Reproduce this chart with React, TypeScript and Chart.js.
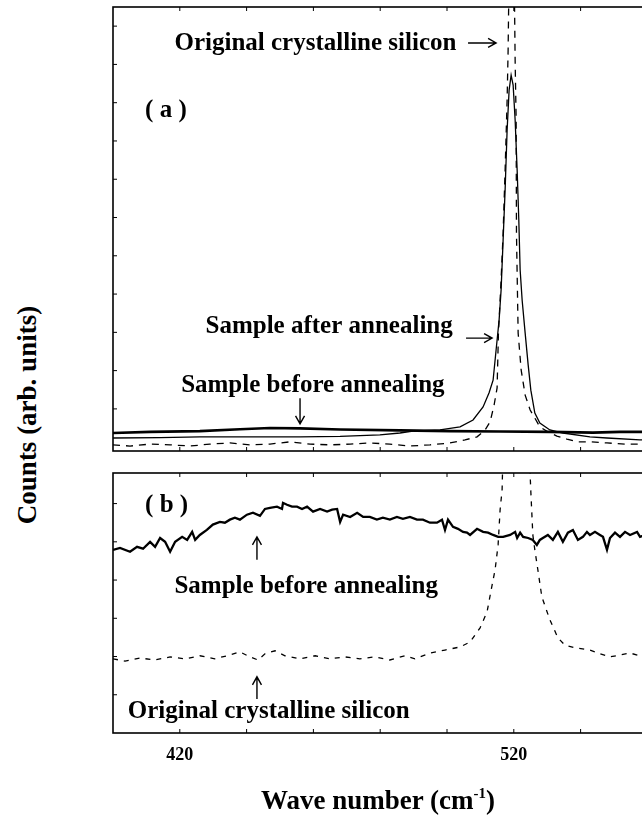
import React, { useEffect, useRef } from "react";
import { Chart, registerables } from "chart.js";

Chart.register(...registerables);

// ---------- axis values ----------
const xMin = 400;
const xMax = 560;
const xTickValues = [420, 440, 460, 480, 500, 520, 540];
const xTickLabels = [420, 520];
const aYTicks = [1, 2, 3, 4, 5, 6, 7, 8, 9, 10, 11];
const bYTicks = [1, 2, 3, 4, 5, 6];

// ---------- panel (a) ----------
const aBefore: [number, number][] = [
  [400, 0.37], [411.1, 0.4], [426.0, 0.42], [438.0, 0.47], [447.0, 0.5], [456.0, 0.49],
  [468.0, 0.46], [485.9, 0.44], [500.9, 0.42], [515.9, 0.41], [530.8, 0.4], [543.7, 0.38],
  [551.8, 0.4], [560, 0.4],
];

const aAfter: [number, number][] = [
  [400, 0.24], [414.1, 0.25], [426.0, 0.27], [441.0, 0.27], [456.0, 0.27], [468.0, 0.28],
  [479.9, 0.32], [485.9, 0.37], [489.8, 0.42], [497.9, 0.45], [503.9, 0.53], [507.8, 0.71],
  [510.8, 1.05], [512.6, 1.42], [513.8, 1.75], [514.7, 2.54], [515.6, 3.32], [516.2, 4.11],
  [516.8, 5.41], [517.4, 6.72], [518.0, 8.29], [518.6, 9.33], [519.2, 9.72], [519.8, 9.46],
  [520.4, 8.55], [521.0, 7.24], [521.5, 5.93], [521.9, 4.63], [522.5, 3.84], [523.4, 2.98],
  [524.3, 2.15], [525.1, 1.49], [526.3, 0.89], [527.8, 0.63], [530.8, 0.45], [534.7, 0.37],
  [542.8, 0.27], [547.9, 0.24], [557.8, 0.19], [560, 0.19],
];

const aCrystal: [number, number][] = [
  [400, 0.06], [405.1, 0.03], [411.1, 0.08], [417.1, 0.06], [423.1, 0.03], [429.0, 0.08],
  [435.0, 0.11], [441.0, 0.06], [447.0, 0.08], [453.0, 0.14], [459.0, 0.08], [465.0, 0.06],
  [471.0, 0.08], [476.9, 0.11], [482.9, 0.08], [488.9, 0.03], [494.9, 0.06], [500.9, 0.11],
  [505.4, 0.19], [509.0, 0.27], [511.4, 0.45], [512.9, 0.66], [514.1, 1.1], [515.0, 1.55],
  [515.4, 2.98], [516.2, 4.37], [516.8, 5.59], [517.4, 7.24], [518.0, 9.07], [518.3, 10.38],
  [518.6, 12.5], [519.3, 16], [520.1, 12.5], [520.4, 10.11], [520.7, 8.55], [520.8, 5.59],
  [521.3, 2.98], [522.2, 2.02], [523.4, 1.36], [524.9, 0.97], [526.3, 0.76], [527.8, 0.53],
  [530.2, 0.4], [532.9, 0.29], [535.9, 0.21], [538.9, 0.14], [542.8, 0.14], [547.9, 0.11],
  [553.3, 0.08], [560, 0.08],
];

// ---------- panel (b) ----------
const bBefore: [number, number][] = [
  [400, 4.79], [402.1, 4.84], [405.1, 4.74], [407.2, 4.87], [409.0, 4.82], [411.1, 5.0],
  [412.6, 4.87], [414.1, 5.1], [415.6, 5.0], [417.1, 4.74], [418.6, 5.0], [420.7, 5.13],
  [422.2, 5.05], [423.7, 5.26], [424.6, 5.05], [426.0, 5.18], [428.1, 5.31], [429.9, 5.45],
  [432.0, 5.52], [433.5, 5.5], [435.0, 5.58], [436.5, 5.63], [438.0, 5.58], [440.1, 5.71],
  [441.9, 5.76], [444.0, 5.68], [445.5, 5.86], [447.0, 5.89], [449.1, 5.92], [450.6, 5.86],
  [450.9, 6.02], [452.1, 5.97], [453.6, 5.92], [455.1, 5.92], [456.6, 5.86], [458.1, 5.92],
  [459.9, 5.79], [462.0, 5.86], [464.1, 5.79], [465.6, 5.84], [467.1, 5.86], [468.0, 5.52],
  [468.9, 5.71], [471.0, 5.65], [473.1, 5.76], [474.9, 5.65], [476.9, 5.65], [479.0, 5.58],
  [480.8, 5.63], [482.9, 5.58], [485.0, 5.65], [486.8, 5.6], [488.9, 5.65], [491.0, 5.58],
  [492.8, 5.58], [494.9, 5.5], [497.0, 5.5], [498.5, 5.58], [499.4, 5.31], [500.3, 5.58],
  [501.8, 5.39], [503.3, 5.34], [504.8, 5.26], [506.0, 5.24], [506.9, 5.18], [509.0, 5.34],
  [510.8, 5.26], [512.3, 5.24], [513.8, 5.18], [515.3, 5.13], [516.8, 5.13], [518.9, 5.18],
  [520.4, 5.26], [521.0, 5.1], [521.9, 5.24], [522.8, 5.13], [524.3, 5.1], [525.7, 5.05],
  [526.9, 4.92], [527.8, 5.05], [528.7, 5.1], [530.2, 5.18], [531.7, 5.05], [533.2, 5.26],
  [534.7, 5.0], [536.2, 5.24], [537.7, 5.31], [539.2, 5.05], [540.7, 5.13], [541.9, 5.26],
  [542.8, 5.18], [544.3, 5.26], [545.8, 5.18], [546.7, 5.13], [547.9, 4.79], [548.8, 5.1],
  [550.3, 5.24], [551.8, 5.13], [553.3, 5.26], [554.8, 5.18], [556.9, 5.26], [557.8, 5.13],
  [560, 5.2],
];

const bCrystal: [number, number][] = [
  [400, 1.94], [403.6, 1.88], [408.1, 1.96], [412.6, 1.91], [417.1, 1.99], [421.6, 1.94],
  [426.0, 2.02], [430.5, 1.94], [435.0, 2.04], [438.0, 2.12], [441.0, 1.99], [443.4, 1.91],
  [445.5, 2.07], [448.5, 2.15], [451.5, 2.02], [456.0, 1.94], [460.5, 2.02], [464.9, 1.94],
  [469.5, 1.99], [473.9, 1.94], [478.4, 1.99], [482.9, 1.91], [487.4, 2.02], [490.4, 1.94],
  [494.9, 2.09], [499.4, 2.17], [503.9, 2.25], [506.9, 2.38], [509.9, 2.75], [512.0, 3.17],
  [513.5, 3.87], [514.4, 4.27], [515.3, 4.92], [515.9, 5.84], [516.5, 6.36], [518, 12],
  [520.4, 40], [523, 12], [524.9, 6.75], [525.1, 6.31], [525.7, 5.18], [526.3, 4.79],
  [527.2, 4.27], [528.4, 3.56], [530.8, 2.96], [533.2, 2.49], [535.3, 2.3], [538.3, 2.23],
  [542.8, 2.17], [545.8, 2.07], [548.8, 1.99], [551.8, 2.04], [554.8, 2.09], [557.8, 2.02],
  [560, 2.12],
];

// ---------- annotations (data coordinates) ----------
type Note = { x: number; y: number; text: string };
type Arrow = { x1: number; y1: number; x2: number; y2: number };

const aNotes: Note[] = [
  { x: 418.4, y: 10.38, text: "Original crystalline silicon" },
  { x: 409.6, y: 8.63, text: "( a )" },
  { x: 427.7, y: 2.98, text: "Sample after annealing" },
  { x: 420.4, y: 1.44, text: "Sample before annealing" },
];
const aArrows: Arrow[] = [
  { x1: 506.3, y1: 10.56, x2: 514.7, y2: 10.56 },
  { x1: 505.7, y1: 2.85, x2: 513.5, y2: 2.85 },
  { x1: 456.0, y1: 1.28, x2: 456.0, y2: 0.61 },
];

const bNotes: Note[] = [
  { x: 409.6, y: 5.79, text: "( b )" },
  { x: 418.4, y: 3.66, text: "Sample before annealing" },
  { x: 404.4, y: 0.39, text: "Original crystalline silicon" },
];
const bArrows: Arrow[] = [
  { x1: 443.1, y1: 4.53, x2: 443.1, y2: 5.13 },
  { x1: 443.1, y1: 0.89, x2: 443.1, y2: 1.47 },
];

const SERIF = "'Liberation Serif', 'Times New Roman', serif";

function panelPlugin(id: string, yTicks: number[], notes: Note[], arrows: Arrow[]) {
  return {
    id,
    afterDatasetsDraw(chart: any) {
      const { ctx, chartArea: a } = chart;
      const xs = chart.scales.x;
      const ys = chart.scales.y;
      ctx.save();
      ctx.strokeStyle = "#000";
      ctx.lineWidth = 1;
      ctx.beginPath();
      for (const v of xTickValues) {
        const p = xs.getPixelForValue(v);
        ctx.moveTo(p, a.bottom);
        ctx.lineTo(p, a.bottom - 4);
        ctx.moveTo(p, a.top);
        ctx.lineTo(p, a.top + 4);
      }
      for (const v of yTicks) {
        const p = ys.getPixelForValue(v);
        ctx.moveTo(a.left, p);
        ctx.lineTo(a.left + 4, p);
        ctx.moveTo(a.right, p);
        ctx.lineTo(a.right - 4, p);
      }
      ctx.stroke();
      ctx.lineWidth = 1.6;
      ctx.strokeRect(a.left, a.top, a.right - a.left, a.bottom - a.top);

      ctx.fillStyle = "#000";
      ctx.font = `bold 25px ${SERIF}`;
      ctx.textAlign = "left";
      ctx.textBaseline = "alphabetic";
      for (const n of notes) {
        ctx.fillText(n.text, xs.getPixelForValue(n.x), ys.getPixelForValue(n.y));
      }
      ctx.lineWidth = 1.4;
      for (const ar of arrows) {
        const px1 = xs.getPixelForValue(ar.x1);
        const py1 = ys.getPixelForValue(ar.y1);
        const px2 = xs.getPixelForValue(ar.x2);
        const py2 = ys.getPixelForValue(ar.y2);
        const len = Math.hypot(px2 - px1, py2 - py1) || 1;
        const ux = (px2 - px1) / len;
        const uy = (py2 - py1) / len;
        const hx = px2 - ux * 8;
        const hy = py2 - uy * 8;
        ctx.beginPath();
        ctx.moveTo(px1, py1);
        ctx.lineTo(px2, py2);
        ctx.moveTo(hx - uy * 4.5, hy + ux * 4.5);
        ctx.lineTo(px2, py2);
        ctx.lineTo(hx + uy * 4.5, hy - ux * 4.5);
        ctx.stroke();
      }
      ctx.restore();
    },
  };
}

const toPts = (arr: [number, number][]) => arr.map(([x, y]) => ({ x, y }));

function lineDs(data: [number, number][], width: number, dash: number[] = []) {
  return {
    data: toPts(data),
    borderColor: "#000",
    borderWidth: width,
    borderDash: dash,
    pointRadius: 0,
    tension: 0,
    fill: false,
    clip: 0,
  };
}

export default function App() {
  const topRef = useRef<HTMLCanvasElement | null>(null);
  const botRef = useRef<HTMLCanvasElement | null>(null);

  useEffect(() => {
    const prevMargin = document.body.style.margin;
    document.body.style.margin = "0";

    const top = new Chart(topRef.current as HTMLCanvasElement, {
      type: "line",
      data: {
        datasets: [
          lineDs(aBefore, 2.6),
          lineDs(aAfter, 1.3),
          lineDs(aCrystal, 1.3, [7, 6]),
        ] as any,
      },
      options: {
        animation: false,
        responsive: false,
        devicePixelRatio: 1,
        layout: { padding: { left: 13, top: 7, right: 12.6, bottom: 9 } },
        plugins: { legend: { display: false }, tooltip: { enabled: false } },
        scales: {
          x: { type: "linear", min: xMin, max: xMax, display: false },
          y: { type: "linear", min: -0.1, max: 11.5, display: false },
        },
      } as any,
      plugins: [panelPlugin("panelA", aYTicks, aNotes, aArrows)],
    });

    const bot = new Chart(botRef.current as HTMLCanvasElement, {
      type: "line",
      data: {
        datasets: [
          lineDs(bBefore, 2.3),
          lineDs(bCrystal, 1.3, [5, 6]),
        ] as any,
      },
      options: {
        animation: false,
        responsive: false,
        devicePixelRatio: 1,
        layout: { padding: { left: 13, top: 10, right: 12.6, bottom: 0 } },
        plugins: { legend: { display: false }, tooltip: { enabled: false } },
        scales: {
          x: {
            type: "linear",
            min: xMin,
            max: xMax,
            grid: { display: false, drawTicks: false },
            border: { display: false },
            ticks: {
              stepSize: 20,
              autoSkip: false,
              maxRotation: 0,
              padding: 12,
              color: "#000",
              font: { family: SERIF, weight: "bold", size: 18 },
              callback: (v: any) => (xTickLabels.includes(Number(v)) ? String(v) : ""),
            },
            afterFit: (scale: any) => {
              scale.height = 98;
            },
          },
          y: { type: "linear", min: 0, max: 6.8, display: false },
        },
      } as any,
      plugins: [panelPlugin("panelB", bYTicks, bNotes, bArrows)],
    });

    return () => {
      top.destroy();
      bot.destroy();
      document.body.style.margin = prevMargin;
    };
  }, []);

  return (
    <div
      style={{
        position: "fixed",
        left: 0,
        top: 0,
        width: 642,
        height: 831,
        overflow: "hidden",
        background: "#fff",
      }}
    >
      <canvas
        ref={topRef}
        width={560}
        height={460}
        style={{ position: "absolute", left: 100, top: 0, width: 560, height: 460 }}
      />
      <canvas
        ref={botRef}
        width={560}
        height={368}
        style={{ position: "absolute", left: 100, top: 463, width: 560, height: 368 }}
      />
      <div
        style={{
          position: "absolute",
          left: 27,
          top: 415,
          transform: "translate(-50%, -50%) rotate(-90deg)",
          whiteSpace: "nowrap",
          fontFamily: SERIF,
          fontWeight: "bold",
          fontSize: 27,
          color: "#000",
        }}
      >
        Counts (arb. units)
      </div>
      <div
        style={{
          position: "absolute",
          left: 0,
          top: 777,
          width: 756,
          textAlign: "center",
          whiteSpace: "nowrap",
          fontFamily: SERIF,
          fontWeight: "bold",
          fontSize: 27,
          lineHeight: "32px",
          color: "#000",
        }}
      >
        Wave number (cm<sup style={{ fontSize: "0.55em", verticalAlign: "0.75em" }}>-1</sup>)
      </div>
    </div>
  );
}
